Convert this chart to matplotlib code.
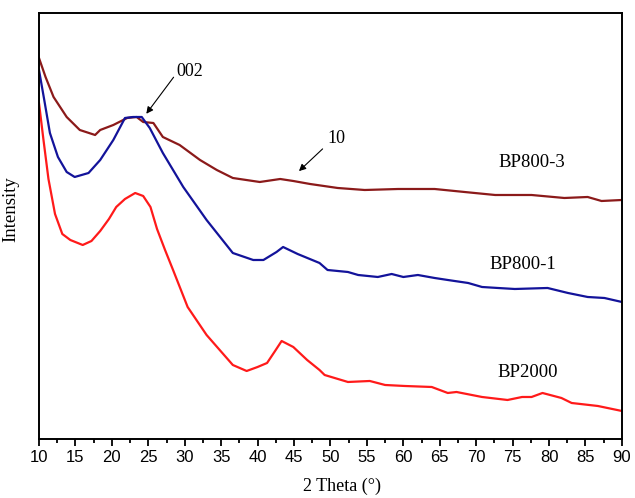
import matplotlib
matplotlib.use("Agg")
import matplotlib.pyplot as plt

# values; intensity in arbitrary units
x_bp2000 = [10, 10.6, 11.3, 12.2, 13.2, 14.3, 16.0, 17.2, 18.4, 19.6, 20.6, 21.8, 23.2, 24.3, 25.3,
            26.2, 27.3, 28.4, 30.4, 33.0, 36.6, 38.5, 40.0, 41.3, 42.4, 43.3, 44.9, 46.8, 48.5,
            49.2, 52.4, 55.4, 57.5, 60.2, 63.9, 66.1, 67.3, 70.8, 74.3, 76.3, 77.6, 79.1, 81.7,
            83.1, 86.7, 90]
y_bp2000 = [336, 300, 260, 225, 205, 199, 194, 198, 208, 220, 232, 240, 246, 243, 232,
            210, 189, 169, 132, 104, 74, 68, 72, 76, 88, 98, 92, 79, 69,
            64, 57, 58, 54, 53, 52, 46, 47, 42, 39, 42, 42, 46, 41,
            36, 33, 28]

x_bp800_1 = [10, 10.7, 11.5, 12.6, 13.8, 14.9, 16.8, 18.4, 20.2, 21.8, 22.9, 24.1, 25.2, 27.0,
             29.8, 33.0, 36.6, 39.4, 40.8, 42.6, 43.5, 45.5, 48.5, 49.6, 52.4, 53.8, 56.5, 58.4,
             60.0, 62.0, 64.3, 66.1, 68.9, 70.8, 73.0, 75.3, 79.8, 82.6, 85.3, 87.6, 90]
y_bp800_1 = [369, 340, 306, 282, 267, 262, 266, 279, 299, 321, 322, 322, 311, 286,
             252, 219, 186, 179, 179, 187, 192, 185, 176, 169, 167, 164, 162, 165,
             162, 164, 161, 159, 156, 152, 151, 150, 151, 146, 142, 141, 137]

x_bp800_3 = [10, 10.9, 12.0, 13.8, 15.6, 17.7, 18.4, 20.2, 22.1, 23.4, 24.3, 25.7, 27.0, 29.3,
             32.1, 34.4, 36.6, 40.3, 43.1, 44.9, 47.2, 51.0, 54.7, 59.3, 64.3, 68.4, 72.6,
             77.6, 82.1, 85.3, 87.2, 90]
y_bp800_3 = [381, 362, 342, 322, 309, 304, 309, 314, 321, 322, 317, 316, 302, 294,
             279, 269, 261, 257, 260, 258, 255, 251, 249, 250, 250, 247, 244,
             244, 241, 242, 238, 239]

labels = ["BP800-3", "BP800-1", "BP2000"]
label_pos = [(77.6, 276), (76.4, 174), (77.1, 66)]
xticks = list(range(10, 95, 5))

fig = plt.figure(figsize=(6.35, 4.98), dpi=100)
ax = fig.add_axes([0.0614, 0.1185, 0.918, 0.8554])

ax.plot(x_bp800_3, y_bp800_3, color="#8b1a1a", lw=1.6)
ax.plot(x_bp800_1, y_bp800_1, color="#13139a", lw=1.6)
ax.plot(x_bp2000, y_bp2000, color="#ff1a1a", lw=1.6)

for lab, (lx, ly) in zip(labels, label_pos):
    ax.text(lx, ly, lab, ha="center", va="center", fontsize=13.5, family="Liberation Serif")

# peak markers
ax.annotate("", xy=(24.5, 323), xytext=(28.7, 364),
            arrowprops=dict(arrowstyle="-|>", color="black", lw=0.8, mutation_scale=10))
ax.text(28.8, 367, "002", ha="left", va="center", fontsize=13, family="Liberation Serif")
ax.annotate("", xy=(45.4, 266), xytext=(49.2, 292),
            arrowprops=dict(arrowstyle="-|>", color="black", lw=0.8, mutation_scale=10))
ax.text(49.6, 300, "10", ha="left", va="center", fontsize=13, family="Liberation Serif")

ax.set_xlim(10, 90)
ax.set_ylim(0, 426)
ax.set_xticks(xticks)
ax.set_xticks([v + 2.5 for v in xticks[:-1]], minor=True)
ax.set_xticklabels([str(v) for v in xticks], family="Liberation Sans", fontsize=12)
ax.set_yticks([])
ax.tick_params(axis="x", which="major", direction="out", length=5, width=1.3, pad=3)
ax.tick_params(axis="x", which="minor", direction="out", length=3, width=1.3)
for s in ax.spines.values():
    s.set_linewidth(1.4)

ax.set_xlabel("2 Theta (°)", family="Liberation Serif", fontsize=13)
ax.xaxis.set_label_coords(0.52, -0.09)
ax.set_ylabel("Intensity", family="Liberation Serif", fontsize=13.5)
ax.yaxis.set_label_coords(-0.033, 0.54)

fig.savefig("out.png", dpi=100)
